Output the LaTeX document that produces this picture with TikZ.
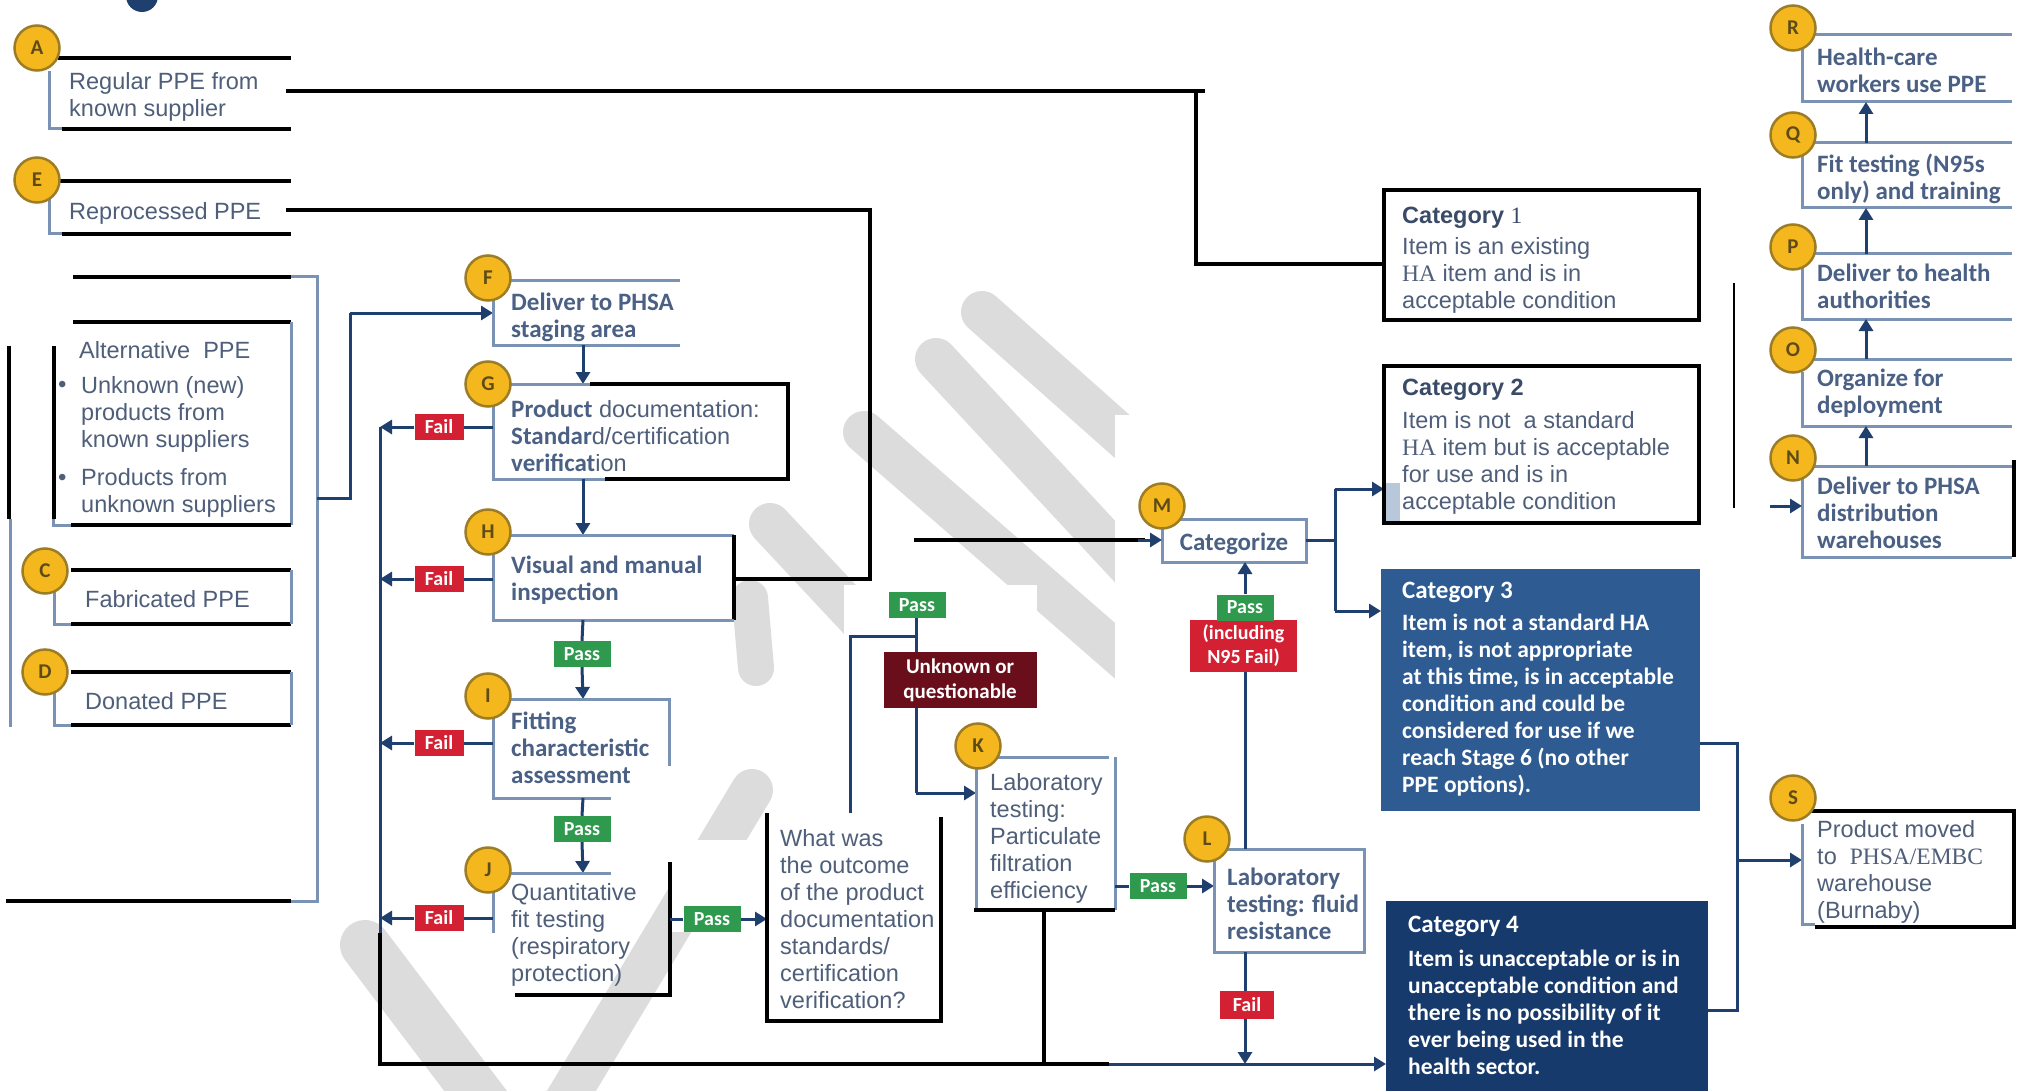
\documentclass[tikz,border=0pt]{standalone}
\usepackage{fontspec}
\setmainfont{Liberation Sans}
\newfontfamily\calib{Carlito}
\newfontfamily\serf{Liberation Serif}
\usetikzlibrary{arrows.meta}
\definecolor{txt}{HTML}{4F5F7A}
\definecolor{ttl}{HTML}{3A4B68}
\definecolor{ctxt}{HTML}{4A6084}
\definecolor{boxl}{HTML}{7A93B5}
\definecolor{navy}{HTML}{1F3F6E}
\definecolor{yel}{HTML}{F5B71E}
\definecolor{yelb}{HTML}{9C7D25}
\definecolor{yelt}{HTML}{5E4C18}
\definecolor{failr}{HTML}{D42033}
\definecolor{passg}{HTML}{2F9A4E}
\definecolor{maroonb}{HTML}{6A0E1B}
\definecolor{catc}{HTML}{2E5B91}
\definecolor{catd}{HTML}{173A6C}
\definecolor{wm}{HTML}{DCDCDC}
\definecolor{greyrect}{HTML}{B9C7DA}
\tikzset{
  circ/.style={circle, fill=yel, draw=yelb, line width=2.5pt, minimum size=45pt, inner sep=0pt,
    font=\calib\bfseries\fontsize{21}{21}\selectfont, text=yelt},
  bk/.style={line width=3.5pt, black},
  bl/.style={line width=3pt, boxl},
  cn/.style={line width=3pt, navy},
  arr/.style={line width=3pt, navy, -{Triangle[length=12pt,width=14pt]}},
  atxt/.style={font=\fontsize{23.5}{27}\selectfont, text=txt, align=left, inner sep=0pt, anchor=west, yshift=-3pt},
  ctx/.style={font=\calib\bfseries\fontsize{25}{27}\selectfont, text=ctxt, align=left, inner sep=0pt, anchor=west, yshift=-3pt},
  wtx/.style={font=\calib\bfseries\fontsize{23.5}{27}\selectfont, text=white, align=left, inner sep=0pt, anchor=west, yshift=-3pt},
  lab/.style={font=\calib\bfseries\fontsize{20}{24}\selectfont, text=white, inner sep=0pt, align=center},
  failbox/.style={lab, fill=failr, minimum width=49pt, minimum height=26pt},
  passbox/.style={lab, fill=passg, minimum width=57pt, minimum height=26pt},
  wmark/.style={line width=42pt, wm, line cap=round}
}
\begin{document}
\begin{tikzpicture}[x=1pt,y=-1pt]
\useasboundingbox (0,0) rectangle (2018,1091);
\fill[white] (0,0) rectangle (2018,1091);
% watermark
\draw[wmark] (982,312) -- (1160,470);
\draw[wmark] (936,359) -- (1160,600);
\draw[wmark] (864,432) -- (1160,690);
\draw[wmark] (770,524) -- (1000,770);
\draw[wmark, line width=36pt] (750,598) -- (756,668);
\draw[wmark, line width=50pt] (365,945) -- (490,1110);
\draw[wmark] (752,790) -- (560,1110);
\fill[white] (1115,415) rectangle (2018,1091);
\fill[white] (844,585) rectangle (1037,820);
\fill[white] (975,771) rectangle (1120,911);
\fill[white] (767,813) rectangle (941,1021);
\fill[white] (671,840) rectangle (767,932);

\fill[navy] (142,-4) circle (16pt);

% ---------- left column ----------
\draw[bk] (58,58) -- (291,58);
\draw[bk] (62,129) -- (291,129);
\draw[bl] (49,71) -- (49,129) -- (62,129);
\node[circ] (cA) at (37,48) {A};
\node[atxt] (tA) at (69,93.5) {Regular PPE from\\known supplier};
\coordinate (a1) at (286,91);
\coordinate (a2) at (1196,91);
\coordinate (a3) at (1196,264);
\draw[bk] (a1) -- (1205,91);
\draw[bk] (a2) -- (a3) -- (1384,264);

\draw[bk] (58,181) -- (291,181);
\draw[bk] (62,234) -- (291,234);
\draw[bl] (49,196) -- (49,234) -- (62,234);
\node[circ] (cE) at (37,180) {E};
\node[atxt] (tE) at (69,210) {Reprocessed PPE};
\coordinate (e1) at (286,210);
\coordinate (e2) at (870,210);
\coordinate (e3) at (870,579);
\coordinate (e4) at (734,579);
\draw[bk] (e1) -- (e2) -- (e3) -- (e4);

\draw[bk] (73,277) -- (291,277);
\draw[bl] (291,277) -- (317,277) -- (317,901) -- (291,901);
\draw[bk] (6,901) -- (291,901);
\draw[bk] (73,322) -- (291,322);
\draw[bl] (291,322) -- (291,525);
\draw[bk] (71,525) -- (291,525);
\draw[bl] (53,519) -- (53,525) -- (71,525);
\draw[bk, line width=4pt] (54,346) -- (54,519);
\draw[bk, line width=4pt] (9,346) -- (9,519);
\draw[bl] (10,519) -- (10,727);
\node[atxt] (alt0) at (79,347) {Alternative\ \ PPE};
\node[atxt, font=\fontsize{24}{24}\selectfont] (b1) at (58,384) {•};
\node[atxt] (alt1) at (81,411) {Unknown (new)\\products from\\known suppliers};
\node[atxt, font=\fontsize{24}{24}\selectfont] (b2) at (58,477) {•};
\node[atxt] (alt2) at (81,490) {Products from\\unknown suppliers};

\draw[bk] (71,570) -- (291,570);
\draw[bk] (71,624) -- (291,624);
\draw[bl] (291,570) -- (291,624);
\draw[bl] (54,583) -- (54,624) -- (71,624);
\node[circ] (cC) at (45,571) {C};
\node[atxt] (tC) at (85,596) {Fabricated PPE};

\draw[bk] (71,672) -- (291,672);
\draw[bk] (71,725) -- (291,725);
\draw[bl] (291,672) -- (291,725);
\draw[bl] (54,685) -- (54,725) -- (71,725);
\node[circ] (cD) at (45,672) {D};
\node[atxt] (tD) at (85,698) {Donated PPE};

% ---------- F ----------
\coordinate (j1) at (317,498);
\coordinate (j2) at (350,498);
\coordinate (j3) at (350,313);
\coordinate (Fin) at (493,313);
\draw[cn] (j1) -- (j2) -- (j3);
\draw[arr] (j3) -- (Fin);
\draw[bl] (502,281) -- (680,281);
\draw[bl] (493,295) -- (493,345) -- (680,345);
\node[circ] (cF) at (488,278) {F};
\node[ctx] (tF) at (511,314.5) {Deliver to PHSA\\staging area};
\draw[arr] (583,345) -- (583,384);

% ---------- G ----------
\draw[bl] (502,384) -- (590,384);
\draw[bk] (590,384) -- (788,384) -- (788,479) -- (605,479);
\draw[bl] (605,479) -- (493,479) -- (493,398);
\node[circ] (cG) at (488,384) {G};
\node[atxt] (tG) at (511,433) {{\calib\bfseries\fontsize{25}{27}\selectfont\color{ctxt}Product} documentation:\\{\calib\bfseries\fontsize{25}{27}\selectfont\color{ctxt}Standar}d/certification\\{\calib\bfseries\fontsize{25}{27}\selectfont\color{ctxt}verificat}ion};
\node[failbox] (fG) at (439,427) {Fail};
\draw[cn] (493,427) -- (fG.east);
\draw[arr] (fG.west) -- (380,427);
\draw[arr] (583,479) -- (583,535);

% ---------- H ----------
\draw[bl] (502,535) -- (734,535);
\draw[bk] (734,535) -- (734,620);
\draw[bl] (734,620) -- (493,620) -- (493,549);
\node[circ] (cH) at (488,532) {H};
\node[ctx] (tH) at (511,577.5) {Visual and manual\\inspection};
\node[failbox] (fH) at (439,579) {Fail};
\draw[cn] (493,579) -- (fH.east);
\draw[arr] (fH.west) -- (380,579);
\node[passbox] (p1) at (582,654) {Pass};
\draw[cn] (583,620) -- (p1.north);
\draw[arr] (p1.south) -- (583,699);

% ---------- I ----------
\draw[bl] (502,699) -- (669,699) -- (669,766);
\draw[bl] (493,712) -- (493,798) -- (611,798);
\node[circ] (cI) at (488,696) {I};
\node[ctx] (tI) at (511,745) {Fitting\\characteristic\\assessment};
\node[failbox] (fI) at (439,743) {Fail};
\draw[cn] (493,743) -- (fI.east);
\draw[arr] (fI.west) -- (380,743);
\node[passbox] (p2) at (582,829) {Pass};
\draw[cn] (583,798) -- (p2.north);
\draw[arr] (p2.south) -- (583,873);

% ---------- J ----------
\draw[bl] (502,873) -- (611,873);
\draw[bk] (670,862) -- (670,995) -- (515,995);
\draw[bl] (493,886) -- (493,933);
\node[circ] (cJ) at (488,870) {J};
\node[atxt] (tJ) at (511,932) {Quantitative\\fit testing\\(respiratory\\protection)};
\node[failbox] (fJ) at (439,918) {Fail};
\draw[cn] (493,918) -- (fJ.east);
\draw[arr] (fJ.west) -- (380,918);

% fail collector
\coordinate (v1) at (380,427);
\coordinate (v2) at (380,933);
\coordinate (v3) at (380,1064);
\coordinate (v4) at (1109,1064);
\coordinate (c4in) at (1386,1064);
\draw[cn] (v1) -- (v2);
\draw[bk] (v2) -- (v3) -- (v4);
\draw[arr] (v4) -- (c4in);

% ---------- What was ----------
\node[passbox] (p3) at (712,919) {Pass};
\draw[cn] (670,919) -- (p3.west);
\draw[arr] (p3.east) -- (767,919);
\draw[bk] (767,813) -- (767,1021) -- (941,1021) -- (941,817);
\node[atxt] (tW) at (780,916) {What was\\the outcome\\of the product\\documentation\\standards/\\certification\\verification?};

\node[passbox] (p4) at (917,605) {Pass};
\node[lab, fill=maroonb, minimum width=153pt, minimum height=56pt, font=\calib\bfseries\fontsize{21}{25}\selectfont] (unk) at (960,680) {Unknown or\\questionable};
\coordinate (w1) at (850,813);
\coordinate (w2) at (850,636);
\coordinate (w3) at (916,636);
\draw[cn] (w1) -- (w2) -- (w3);
\draw[cn] (p4.south -| 916,0) -- (unk.north -| 916,0);
\coordinate (u1) at (916,793);
\coordinate (Kin) at (976,793);
\draw[cn] (unk.south -| 916,0) -- (u1);
\draw[arr] (u1) -- (Kin);

% ---------- K ----------
\draw[bl] (998,757) -- (1109,757);
\draw[bl] (1115,757) -- (1115,910);
\draw[bl] (976,766) -- (976,910);
\draw[bk] (974,910) -- (1115,910);
\node[circ] (cK) at (978,746) {K};
\node[atxt] (tK) at (990,835.5) {Laboratory\\testing:\\Particulate\\filtration\\efficiency};
\draw[bk] (1044,910) -- (1044,1064);
\node[passbox] (p5) at (1158,886) {Pass};
\draw[cn] (1115,886) -- (p5.west);
\draw[arr] (p5.east) -- (1214,886);

% ---------- L ----------
\draw[bl] (1214,849) rectangle (1364,952);
\node[circ] (cL) at (1207,839) {L};
\node[ctx] (tL) at (1227,900.5) {Laboratory\\testing: fluid\\resistance};
\node[lab, fill=failr, minimum width=107pt, minimum height=52pt] (inc) at (1243.5,646) {(including\\N95 Fail)};
\node[passbox] (p6) at (1245,607.5) {Pass};
\draw[cn] (1245,849) -- (inc.south -| 1245,0);
\node[failbox, minimum width=54pt, minimum height=28pt] (f7) at (1247,1005) {Fail};
\draw[cn] (1245,952) -- (f7.north -| 1245,0);
\draw[arr] (f7.south -| 1245,0) -- (1245,1064);

% ---------- M ----------
\draw[bl] (1162,519) rectangle (1306,562);
\node[ctx, anchor=center] (tM) at (1234,541) {Categorize};
\draw[arr] (p6.north -| 1245,0) -- (1245,562);
\node[circ] (cM) at (1162,506) {M};
\coordinate (m1) at (914,540);
\coordinate (m2) at (1145,540);
\coordinate (Min) at (1162,540);
\draw[bk] (m1) -- (m2);
\draw[arr] (1138,540) -- (Min);
\coordinate (k1) at (1306,540);
\coordinate (k2) at (1335,540);
\coordinate (k3) at (1335,489);
\coordinate (k4) at (1335,611);
\draw[cn] (k1) -- (k2);
\draw[cn] (k3) -- (k4);
\draw[arr] (k3) -- (1384,489);
\draw[arr] (k4) -- (1381,611);
\fill[greyrect] (1384,483) rectangle (1400,525);

% ---------- Categories ----------
\draw[bk] (1384,190) rectangle (1699,320);
\node[atxt, text=ttl] (c1t) at (1402,215) {\bfseries Category {\serf\mdseries 1}};
\node[atxt] (c1b) at (1402,272.5) {Item is an existing\\{\serf HA} item and is in\\acceptable condition};
\draw[bk] (1384,366) rectangle (1699,523);
\node[atxt, text=ttl] (c2t) at (1402,387) {\bfseries Category 2};
\node[atxt] (c2b) at (1402,459.5) {Item is not\ \ a standard\\{\serf HA} item but is acceptable\\for use and is in\\acceptable condition};
\fill[catc] (1381,569) rectangle (1700,811);
\node[wtx, font=\calib\bfseries\fontsize{25}{27}\selectfont] (c3t) at (1402,589) {Category 3};
\node[wtx] (c3b) at (1402,702.5) {Item is not a standard HA\\item, is not appropriate\\at this time, is in acceptable\\condition and could be\\considered for use if we\\reach Stage 6 (no other\\PPE options).};
\fill[catd] (1386,901) rectangle (1708,1100);
\node[wtx, font=\calib\bfseries\fontsize{25}{27}\selectfont] (c4t) at (1408,923) {Category 4};
\node[wtx] (c4b) at (1408,1009.5) {Item is unacceptable or is in\\unacceptable condition and\\there is no possibility of it\\ever being used in the\\health sector.};
\coordinate (s1) at (1700,743);
\coordinate (s2) at (1737,743);
\coordinate (s3) at (1737,1010);
\coordinate (s4) at (1708,1010);
\coordinate (s5) at (1737,860);
\coordinate (Sin) at (1802,860);
\draw[cn] (s1) -- (s2) -- (s3) -- (s4);
\draw[arr] (s5) -- (Sin);

% ---------- S ----------
\draw[bk] (1802,811) -- (2014,811) -- (2014,927) -- (1815,927);
\draw[bl] (1802,824) -- (1802,924) -- (1815,924);
\node[circ] (cS) at (1793,798) {S};
\node[atxt] (tS) at (1817,869) {Product moved\\to\ \ {\serf PHSA/EMBC}\\warehouse\\(Burnaby)};

% ---------- right column ----------
\foreach \t/\b/\nm in {35/102/R, 143/208/Q, 254/319/P, 359/426/O, 466/557/N}{
  \draw[bl] (1802,\t) -- (2012,\t);
  \draw[bl] (1802,\t+13) -- (1802,\b) -- (2012,\b);
}
\node[circ] (cR) at (1793,28) {R};
\node[ctx] (tR) at (1817,67.5) {Health-care\\workers use PPE};
\node[circ] (cQ) at (1793,135) {Q};
\node[ctx] (tQ) at (1817,175.5) {Fit testing (N95s\\only) and training};
\node[circ] (cP) at (1793,247) {P};
\node[ctx] (tP) at (1817,283.5) {Deliver to health\\authorities};
\node[circ] (cO) at (1793,350) {O};
\node[ctx] (tO) at (1817,390.5) {Organize for\\deployment};
\node[circ] (cN) at (1793,458) {N};
\node[ctx] (tN) at (1817,510) {Deliver to PHSA\\distribution\\warehouses};
\draw[arr] (1866,143) -- (1866,102);
\draw[arr] (1866,254) -- (1866,208);
\draw[arr] (1866,359) -- (1866,319);
\draw[arr] (1866,466) -- (1866,426);
\coordinate (Nl) at (1770,506);
\coordinate (Nin) at (1802,506);
\draw[arr] (Nl) -- (Nin);
\draw[bk, line width=4pt] (2014,460) -- (2014,557);
\draw[black, line width=2pt] (1734,283) -- (1734,508);
\end{tikzpicture}
\end{document}
